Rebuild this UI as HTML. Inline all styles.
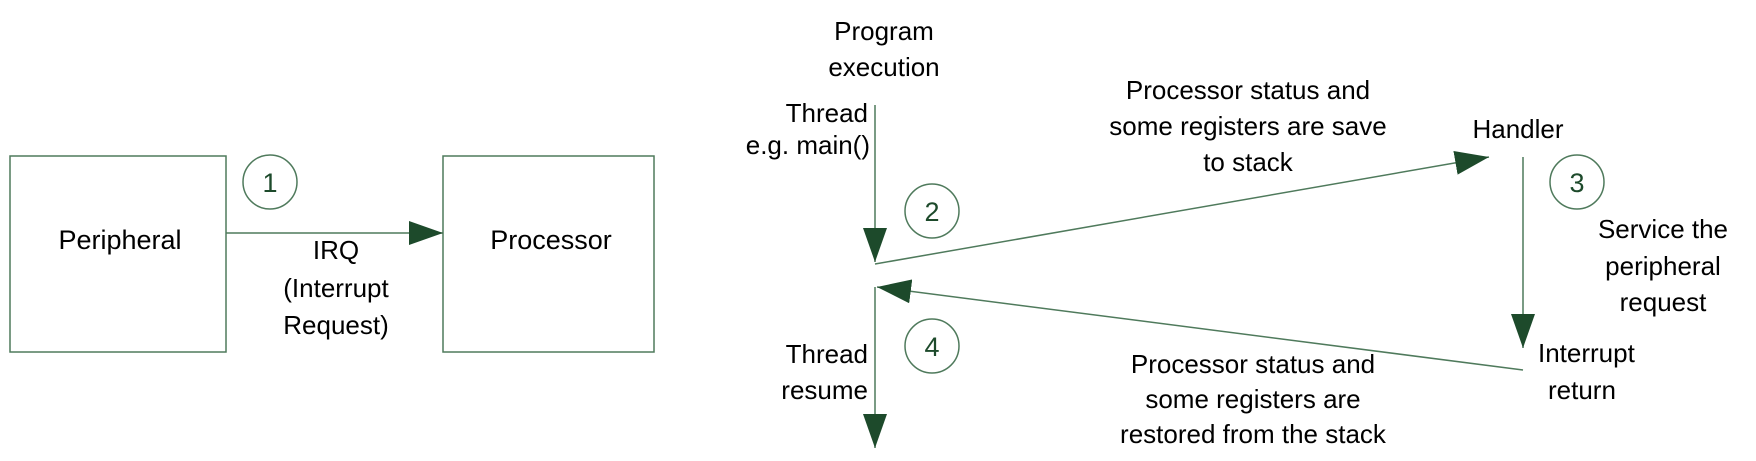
<!DOCTYPE html>
<html><head><style>
body{margin:0;background:#fff;}
svg{display:block;}
text{font-family:"Liberation Sans",sans-serif;font-size:26px;fill:#000;}
.n{fill:#1d4a2b;font-size:27px;}
</style></head><body>
<svg width="1756" height="461" viewBox="0 0 1756 461">
<defs>
<marker id="a" markerWidth="34" markerHeight="24" refX="34" refY="12" orient="auto" markerUnits="userSpaceOnUse">
<path d="M0,0 L34,12 L0,24 Z" fill="#1d4a2b"/></marker>
</defs>
<g fill="none" stroke="#4f7a5c" stroke-width="1.5">
<rect x="10" y="156" width="216" height="196"/>
<rect x="443" y="156" width="211" height="196"/>
<line x1="226" y1="233" x2="443" y2="233" marker-end="url(#a)"/>
<circle cx="270" cy="182" r="27"/>
<line x1="875" y1="105" x2="875" y2="262" marker-end="url(#a)"/>
<line x1="875" y1="264" x2="1489" y2="157" marker-end="url(#a)"/>
<line x1="1523" y1="157" x2="1523" y2="348" marker-end="url(#a)"/>
<line x1="1523" y1="370" x2="877" y2="287" marker-end="url(#a)"/>
<line x1="875" y1="287" x2="875" y2="448" marker-end="url(#a)"/>
<circle cx="932" cy="211" r="27"/>
<circle cx="1577" cy="182" r="27"/>
<circle cx="932" cy="346" r="27"/>
</g>
<text class="n" x="270" y="192" text-anchor="middle">1</text>
<text class="n" x="932" y="221" text-anchor="middle">2</text>
<text class="n" x="1577" y="192" text-anchor="middle">3</text>
<text class="n" x="932" y="356" text-anchor="middle">4</text>
<text x="120" y="249" text-anchor="middle" style="font-size:27px">Peripheral</text>
<text x="551" y="249" text-anchor="middle" style="font-size:27px">Processor</text>
<g text-anchor="middle">
<text x="336" y="259">IRQ</text>
<text x="336" y="297">(Interrupt</text>
<text x="336" y="334">Request)</text>
<text x="884" y="40">Program</text>
<text x="884" y="76">execution</text>
<text x="1248" y="99">Processor status and</text>
<text x="1248" y="135">some registers are save</text>
<text x="1248" y="171">to stack</text>
<text x="1518" y="138">Handler</text>
<text x="1663" y="238">Service the</text>
<text x="1663" y="275">peripheral</text>
<text x="1663" y="311">request</text>
<text x="1253" y="373">Processor status and</text>
<text x="1253" y="408">some registers are</text>
<text x="1253" y="443">restored from the stack</text>
</g>
<g text-anchor="end">
<text x="868" y="122">Thread</text>
<text x="870" y="154">e.g. main()</text>
<text x="868" y="363">Thread</text>
<text x="868" y="399">resume</text>
</g>
<text x="1538" y="362">Interrupt</text>
<text x="1548" y="399">return</text>
</svg>
</body></html>
